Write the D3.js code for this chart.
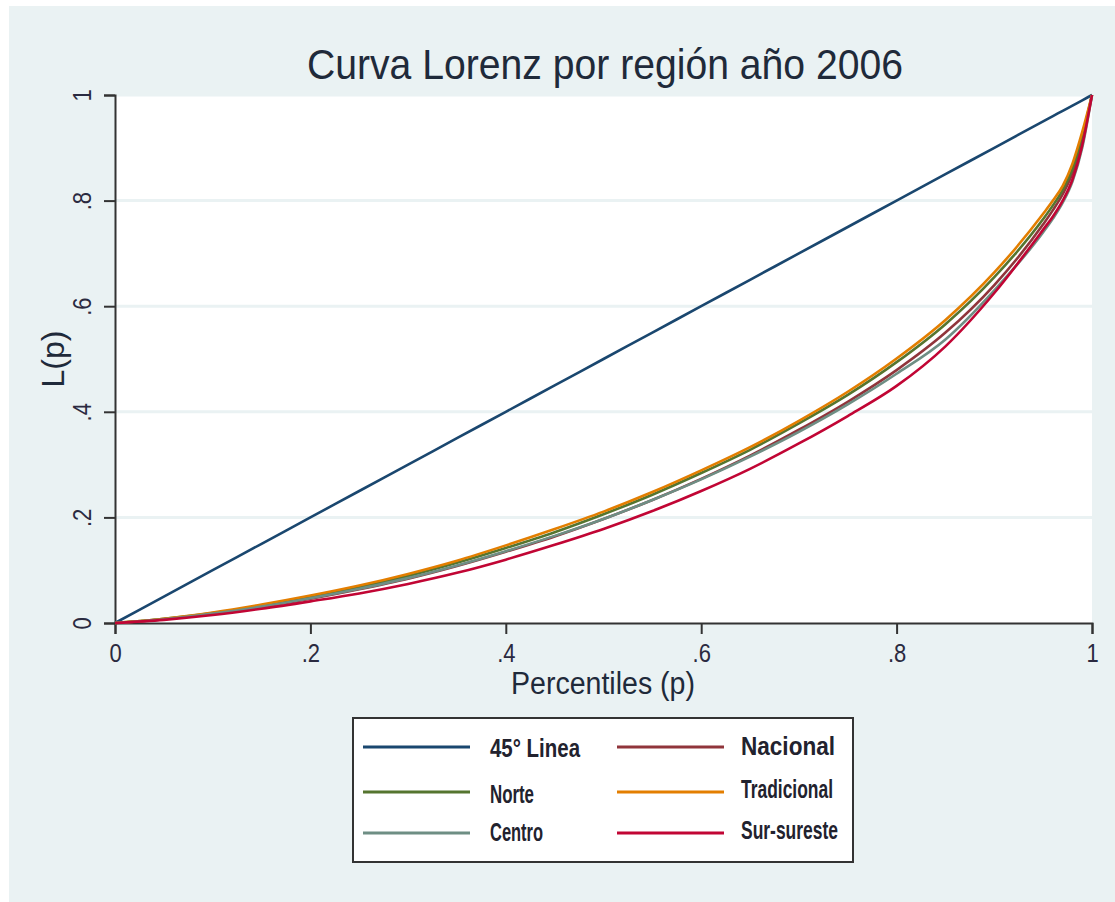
<!DOCTYPE html>
<html>
<head>
<meta charset="utf-8">
<script src="https://cdn.jsdelivr.net/npm/d3@7"></script>
<style>
html,body{margin:0;padding:0;background:#ffffff;}
svg{display:block;}
</style>
</head>
<body>
<svg id="chart" width="1115" height="902"></svg>
<script>
// ---------- data ----------
const percentiles = [0, .05, .1, .15, .2, .25, .3, .35, .4, .45, .5, .55, .6, .65, .7, .75, .8, .85, .9, .95, .96, .97, .98, .99, 1];
const linea45     = [0, .05, .1, .15, .2, .25, .3, .35, .4, .45, .5, .55, .6, .65, .7, .75, .8, .85, .9, .95, .96, .97, .98, .99, 1];
const nacional    = [0, .007, .018, .031, .046, .064, .084, .108, .135, .164, .197, .233, .273, .317, .366, .419, .479, .550, .640, .755, .782, .812, .852, .915, 1];
const norte       = [0, .008, .019, .033, .049, .068, .089, .114, .142, .172, .206, .243, .284, .328, .378, .432, .494, .566, .655, .765, .791, .820, .860, .922, 1];
const tradicional = [0, .008, .020, .035, .052, .071, .093, .118, .147, .178, .211, .248, .289, .333, .383, .438, .501, .574, .664, .775, .800, .828, .870, .930, 1];
const centro      = [0, .007, .018, .031, .047, .065, .085, .109, .136, .165, .197, .233, .272, .315, .362, .414, .472, .537, .630, .740, .766, .796, .836, .900, 1];
const surSureste  = [0, .006, .015, .027, .041, .056, .074, .095, .120, .148, .178, .212, .250, .292, .340, .392, .449, .524, .625, .745, .770, .800, .840, .905, 1];

const seriesNames  = ["45° Linea", "Nacional", "Norte", "Tradicional", "Centro", "Sur-sureste"];
const seriesValues = [linea45, nacional, norte, tradicional, centro, surSureste];
const seriesColors = ["#1a476f", "#90353b", "#55752f", "#e37e00", "#6e8e84", "#c10534"];

const xTicks = [0, .2, .4, .6, .8, 1];
const xTickLabels = ["0", ".2", ".4", ".6", ".8", "1"];
const yTicks = [0, .2, .4, .6, .8, 1];
const yTickLabels = ["0", ".2", ".4", ".6", ".8", "1"];

const titleText = "Curva Lorenz por región año 2006";
const xTitle = "Percentiles (p)";
const yTitle = "L(p)";

// ---------- drawing ----------
const svg = d3.select("#chart");
const FONT = "'Liberation Sans Narrow', 'Arial Narrow', 'Liberation Sans', Arial, sans-serif";
const bg = "#eaf2f3";

svg.append("rect").attr("x", 9).attr("y", 6).attr("width", 1106).attr("height", 896).attr("fill", bg);

const x = d3.scaleLinear().domain([0, 1]).range([115, 1092]);
const y = d3.scaleLinear().domain([0, 1]).range([623, 95]);

// plot region
svg.append("rect").attr("x", x(0)).attr("y", y(1))
  .attr("width", x(1) - x(0)).attr("height", y(0) - y(1)).attr("fill", "#ffffff");

// gridlines
svg.append("g").selectAll("line").data(yTicks.filter(d => d > 0)).join("line")
  .attr("x1", x(0)).attr("x2", x(1))
  .attr("y1", d => y(d)).attr("y2", d => y(d))
  .attr("stroke", bg).attr("stroke-width", 3);

// title
svg.append("text").attr("x", 307).attr("y", 79)
  .attr("font-family", FONT).attr("font-size", 42).attr("fill", "#1f2a3a")
  .attr("textLength", 596).attr("lengthAdjust", "spacingAndGlyphs")
  .text(titleText);

// axes
const xAxis = d3.axisBottom(x).tickValues(xTicks).tickFormat((d, i) => xTickLabels[i]).tickSize(11).tickPadding(10);
const gx = svg.append("g").attr("transform", `translate(0,${y(0)})`).call(xAxis);
gx.select(".domain").attr("stroke", "#333").attr("stroke-width", 2);
gx.selectAll(".tick line").attr("stroke", "#333").attr("stroke-width", 2);
gx.selectAll(".tick text").attr("font-family", FONT).attr("font-size", 25).attr("fill", "#2a2a40")
  .attr("transform", "scale(0.88,1)").attr("x", 0);

const yAxis = d3.axisLeft(y).tickValues(yTicks).tickFormat((d, i) => yTickLabels[i]).tickSize(11).tickPadding(10);
const gy = svg.append("g").attr("transform", `translate(${x(0)},0)`).call(yAxis);
gy.select(".domain").attr("stroke", "#333").attr("stroke-width", 2);
gy.selectAll(".tick line").attr("stroke", "#333").attr("stroke-width", 2);
gy.selectAll(".tick text")
  .attr("font-family", FONT).attr("font-size", 25).attr("fill", "#2a2a40")
  .attr("text-anchor", "middle").attr("x", null).attr("dy", null)
  .attr("transform", "translate(-31,0) rotate(-90) scale(0.88,1)").attr("y", 0)
  .attr("dominant-baseline", "middle");

// axis titles
svg.append("text").attr("x", 511).attr("y", 694)
  .attr("font-family", FONT).attr("font-size", 31).attr("fill", "#1f2a3a")
  .attr("textLength", 184).attr("lengthAdjust", "spacingAndGlyphs").text(xTitle);
svg.append("text").attr("transform", `translate(64,${y(0.5)}) rotate(-90)`).attr("text-anchor", "middle")
  .attr("font-family", FONT).attr("font-size", 32).attr("fill", "#1f2a3a").text(yTitle);

// lines
const line = d3.line().x(d => x(d[0])).y(d => y(d[1])).curve(d3.curveMonotoneX);
const lg = svg.append("g");
seriesValues.forEach((vals, i) => {
  lg.append("path")
    .datum(percentiles.map((p, j) => [p, vals[j]]))
    .attr("d", line).attr("fill", "none")
    .attr("stroke", seriesColors[i]).attr("stroke-width", 2.6)
    .attr("stroke-linejoin", "round");
});

// legend
const leg = svg.append("g");
leg.append("rect").attr("x", 353).attr("y", 718).attr("width", 500).attr("height", 144)
  .attr("fill", "#ffffff").attr("stroke", "#333").attr("stroke-width", 2);
const legPos = [
  {lx1: 363, lx2: 470, ly: 747, tx: 490, ty: 757, w: 90},
  {lx1: 617, lx2: 724, ly: 747, tx: 741, ty: 755, w: 94},
  {lx1: 363, lx2: 470, ly: 792, tx: 490, ty: 803, w: 44},
  {lx1: 617, lx2: 724, ly: 792, tx: 741, ty: 798, w: 92},
  {lx1: 363, lx2: 470, ly: 833, tx: 490, ty: 841, w: 53},
  {lx1: 617, lx2: 724, ly: 833, tx: 741, ty: 839, w: 97}
];
seriesNames.forEach((name, i) => {
  const p = legPos[i];
  leg.append("line").attr("x1", p.lx1).attr("x2", p.lx2).attr("y1", p.ly).attr("y2", p.ly)
    .attr("stroke", seriesColors[i]).attr("stroke-width", 3);
  leg.append("text").attr("x", p.tx).attr("y", p.ty)
    .attr("font-family", FONT).attr("font-size", 26).attr("font-weight", "bold")
    .attr("fill", "#22222e")
    .attr("textLength", p.w).attr("lengthAdjust", "spacingAndGlyphs")
    .text(name);
});
</script>
</body>
</html>
